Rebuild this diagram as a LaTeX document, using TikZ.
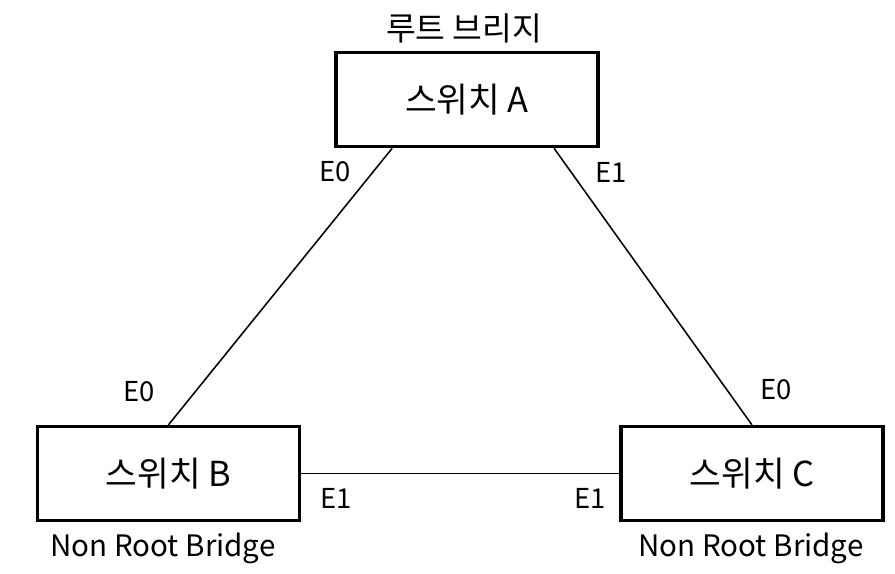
\documentclass[tikz,border=0pt]{standalone}
\usepackage{fontspec}
\setmainfont{Noto Sans CJK KR}
\usetikzlibrary{calc}
\tikzset{
  switchbox/.style={rectangle, draw, line width=2.4pt, minimum width=6.55cm, minimum height=2.35cm, font=\fontsize{24.5}{28}\selectfont},
  port/.style={font=\fontsize{19.5}{23}\selectfont},
  role/.style={font=\fontsize{21}{25}\selectfont},
  link/.style={line width=1.1pt}
}
\begin{document}
\begin{tikzpicture}
    \useasboundingbox (0, 0) rectangle (22.375, -14.35);
    % switches
    \node (swA) at (11.675, -2.49) [switchbox] {스위치 A};
    \node (swB) at (4.21, -11.84) [switchbox] {스위치 B};
    \node (swC) at (18.8, -11.84) [switchbox] {스위치 C};

    % roles
    \node (rootA) at (11.6, -0.7) [role, font=\fontsize{23}{27}\selectfont] {루트 브리지};
    \node (nrbB) at (4.075, -13.7) [role] {Non Root Bridge};
    \node (nrbC) at (18.775, -13.7) [role] {Non Root Bridge};

    % links
    \draw[link] ($(swA.south west)!0.218!(swA.south east)$) -- (swB.north);
    \draw[link] ($(swA.south west)!0.828!(swA.south east)$) -- (swC.north);
    \draw[link] (swB.east) -- (swC.west);

    % ports
    \node (pAB) at (8.375, -4.3) [port] {E0};
    \node (pAC) at (15.28, -4.3) [port] {E1};
    \node (pBA) at (3.475, -9.8) [port] {E0};
    \node (pBC) at (8.4, -12.45) [port] {E1};
    \node (pCA) at (19.4, -9.75) [port] {E0};
    \node (pCB) at (14.75, -12.45) [port] {E1};
\end{tikzpicture}
\end{document}
